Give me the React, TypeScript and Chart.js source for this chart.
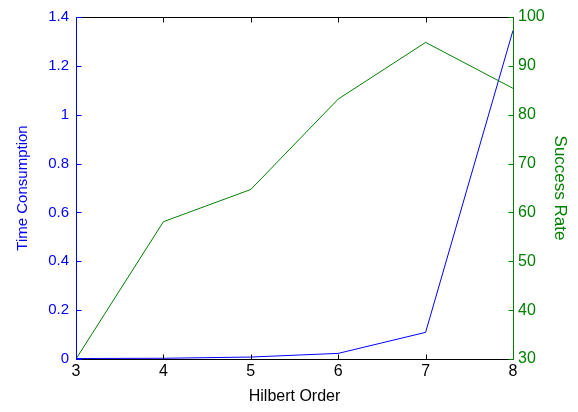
import React, { useEffect, useRef } from "react";
import { Chart, registerables } from "chart.js";

Chart.register(...registerables);

const hilbertOrders = [3, 4, 5, 6, 7, 8];
const timeConsumption = [0.002, 0.003, 0.008, 0.023, 0.109, 1.345];
const successRate = [30, 58.1, 64.7, 83.2, 94.8, 85.4];
const leftTicks = [0, 0.2, 0.4, 0.6, 0.8, 1, 1.2, 1.4];
const rightTicks = [30, 40, 50, 60, 70, 80, 90, 100];
const xTicks = [3, 4, 5, 6, 7, 8];

const BLUE = "#0000ff";
const GREEN = "#008000";
const FONT = "'Liberation Sans', Arial, sans-serif";

const framePlugin = {
  id: "matlabFrame",
  afterDatasetsDraw(chart: any) {
    const { ctx, chartArea } = chart;
    const { left, right, top, bottom } = chartArea;
    const L = Math.round(left) + 0.5;
    const R = Math.round(right) + 0.5;
    const T = Math.round(top) + 0.5;
    const B = Math.round(bottom) + 0.5;
    const tl = 5;
    ctx.save();
    ctx.lineWidth = 1;
    // top & bottom black
    ctx.strokeStyle = "#000000";
    ctx.beginPath();
    ctx.moveTo(L, T);
    ctx.lineTo(R, T);
    ctx.moveTo(L, B);
    ctx.lineTo(R, B);
    const xs = chart.scales.x;
    xTicks.forEach((v) => {
      const px = Math.round(xs.getPixelForValue(v)) + 0.5;
      ctx.moveTo(px, B);
      ctx.lineTo(px, B - tl);
      ctx.moveTo(px, T);
      ctx.lineTo(px, T + tl);
    });
    ctx.stroke();
    // left blue
    ctx.strokeStyle = BLUE;
    ctx.beginPath();
    ctx.moveTo(L, T);
    ctx.lineTo(L, B);
    const yl = chart.scales.y;
    leftTicks.forEach((v) => {
      const py = Math.round(yl.getPixelForValue(v)) + 0.5;
      ctx.moveTo(L, py);
      ctx.lineTo(L + tl, py);
    });
    ctx.stroke();
    // right green
    ctx.strokeStyle = GREEN;
    ctx.beginPath();
    ctx.moveTo(R, T);
    ctx.lineTo(R, B);
    const yr = chart.scales.y1;
    rightTicks.forEach((v) => {
      const py = Math.round(yr.getPixelForValue(v)) + 0.5;
      ctx.moveTo(R, py);
      ctx.lineTo(R - tl, py);
    });
    ctx.stroke();
    ctx.restore();
  },
};

export default function App() {
  const ref = useRef<HTMLCanvasElement>(null);
  useEffect(() => {
    if (!ref.current) return;
    const chart = new Chart(ref.current, {
      type: "line",
      data: {
        datasets: [
          {
            label: "Time Consumption",
            data: hilbertOrders.map((x, i) => ({ x, y: timeConsumption[i] })),
            borderColor: BLUE,
            borderWidth: 1,
            pointRadius: 0,
            tension: 0,
            yAxisID: "y",
            order: 2,
          },
          {
            label: "Success Rate",
            data: hilbertOrders.map((x, i) => ({ x, y: successRate[i] })),
            borderColor: GREEN,
            borderWidth: 1,
            pointRadius: 0,
            tension: 0,
            yAxisID: "y1",
            order: 1,
          },
        ],
      },
      options: {
        animation: false,
        responsive: false,
        devicePixelRatio: 1,
        layout: { padding: { top: 17, left: 0, right: 0, bottom: 0 } },
        plugins: { legend: { display: false }, tooltip: { enabled: false } },
        scales: {
          x: {
            type: "linear",
            min: 3,
            max: 8,
            afterBuildTicks: (s: any) => {
              s.ticks = xTicks.map((v) => ({ value: v }));
            },
            afterFit: (s: any) => {
              s.height = 53;
            },
            grid: { display: false, drawTicks: false },
            border: { display: false },
            ticks: {
              color: "#000000",
              font: { family: FONT, size: 16 },
              padding: 3,
              maxRotation: 0,
              autoSkip: false,
            },
            title: {
              display: true,
              text: "Hilbert Order",
              color: "#000000",
              font: { family: FONT, size: 16 },
              padding: { top: 0, bottom: 6 },
            },
          },
          y: {
            type: "linear",
            position: "left",
            min: 0,
            max: 1.4,
            afterBuildTicks: (s: any) => {
              s.ticks = leftTicks.map((v) => ({ value: v }));
            },
            afterFit: (s: any) => {
              s.width = 76;
            },
            grid: { display: false, drawTicks: false },
            border: { display: false },
            ticks: {
              color: BLUE,
              font: { family: FONT, size: 15 },
              padding: 7,
              autoSkip: false,
              callback: (v: any) => String(Math.round(Number(v) * 10) / 10),
            },
            title: {
              display: true,
              text: "Time Consumption",
              color: BLUE,
              font: { family: FONT, size: 15 },
              padding: { top: 14, bottom: 0 },
            },
          },
          y1: {
            type: "linear",
            position: "right",
            min: 30,
            max: 100,
            afterBuildTicks: (s: any) => {
              s.ticks = rightTicks.map((v) => ({ value: v }));
            },
            afterFit: (s: any) => {
              s.width = 65;
            },
            grid: { display: false, drawTicks: false },
            border: { display: false },
            ticks: {
              color: GREEN,
              font: { family: FONT, size: 16 },
              padding: 5,
              autoSkip: false,
            },
            title: {
              display: true,
              text: "Success Rate",
              color: GREEN,
              font: { family: FONT, size: 17 },
              padding: { top: 8, bottom: 0 },
            },
          },
        },
      },
      plugins: [framePlugin],
    } as any);
    return () => chart.destroy();
  }, []);
  return (
    <div style={{ position: "absolute", left: 0, top: 0, width: 578, height: 412, background: "#ffffff" }}>
      <canvas ref={ref} width={578} height={412} style={{ width: 578, height: 412, display: "block" }} />
    </div>
  );
}
